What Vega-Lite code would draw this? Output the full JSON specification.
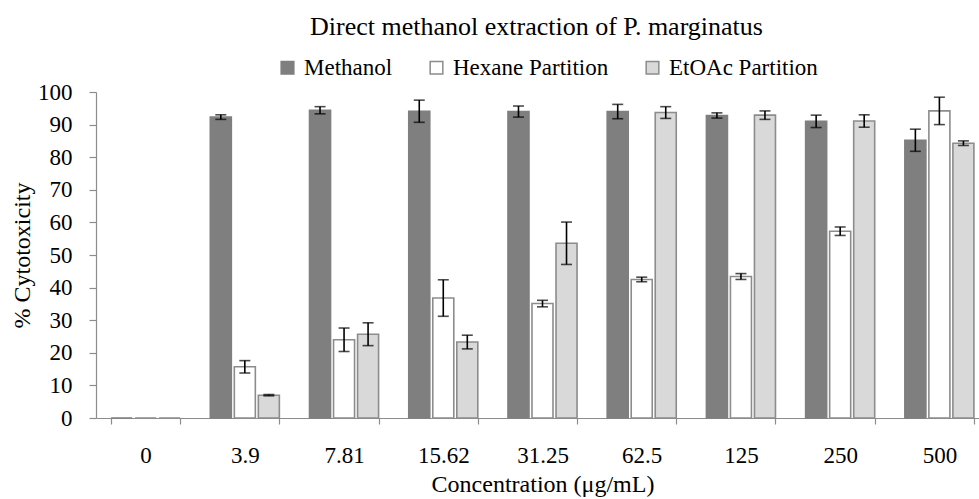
{
  "$schema": "https://vega.github.io/schema/vega-lite/v6.json",
  "width": 893,
  "height": 326,
  "autosize": {"type": "none"},
  "padding": {"left": 96, "top": 92, "right": -10, "bottom": 81},
  "background": "white",
  "title": {
    "text": "Direct methanol extraction of P. marginatus",
    "font": "Liberation Serif",
    "fontSize": 26,
    "fontWeight": "normal",
    "color": "black",
    "anchor": "start",
    "frame": "group",
    "dx": 214,
    "offset": 16
  },
  "config": {
    "view": {"stroke": null},
    "font": "Liberation Serif",
    "axis": {
      "labelFont": "Liberation Serif",
      "titleFont": "Liberation Serif",
      "labelColor": "black",
      "titleColor": "black",
      "titleFontWeight": "normal",
      "ticks": true,
      "tickColor": "#8c8c8c",
      "tickWidth": 1.2,
      "domainColor": "#8c8c8c",
      "domainWidth": 1.2,
      "grid": false,
      "labelOverlap": false
    },
    "axisX": {
      "titleFontSize": 24,
      "titlePadding": 5,
      "labelFontSize": 23,
      "labelPadding": 20,
      "labelAngle": 0,
      "tickSize": 6,
      "tickBand": "extent"
    }
  },
  "data": {
    "values": [
      {"conc": "0", "series": "Methanol", "value": 0},
      {"conc": "0", "series": "Hexane Partition", "value": 0},
      {"conc": "0", "series": "EtOAc Partition", "value": 0},
      {"conc": "3.9", "series": "Methanol", "value": 92.3, "lo": 91.6, "hi": 93.0},
      {"conc": "3.9", "series": "Hexane Partition", "value": 15.7, "lo": 13.8, "hi": 17.6},
      {"conc": "3.9", "series": "EtOAc Partition", "value": 7.0, "lo": 6.8, "hi": 7.2},
      {"conc": "7.81", "series": "Methanol", "value": 94.4, "lo": 93.3, "hi": 95.5},
      {"conc": "7.81", "series": "Hexane Partition", "value": 24.0, "lo": 20.4, "hi": 27.6},
      {"conc": "7.81", "series": "EtOAc Partition", "value": 25.7, "lo": 22.2, "hi": 29.2},
      {"conc": "15.62", "series": "Methanol", "value": 94.1, "lo": 90.7, "hi": 97.5},
      {"conc": "15.62", "series": "Hexane Partition", "value": 36.8, "lo": 31.2, "hi": 42.4},
      {"conc": "15.62", "series": "EtOAc Partition", "value": 23.3, "lo": 21.2, "hi": 25.4},
      {"conc": "31.25", "series": "Methanol", "value": 94.0, "lo": 92.3, "hi": 95.7},
      {"conc": "31.25", "series": "Hexane Partition", "value": 35.1, "lo": 34.1, "hi": 36.1},
      {"conc": "31.25", "series": "EtOAc Partition", "value": 53.6, "lo": 47.1, "hi": 60.1},
      {"conc": "62.5", "series": "Methanol", "value": 94.0, "lo": 91.8, "hi": 96.2},
      {"conc": "62.5", "series": "Hexane Partition", "value": 42.5, "lo": 41.8, "hi": 43.2},
      {"conc": "62.5", "series": "EtOAc Partition", "value": 93.7, "lo": 91.9, "hi": 95.5},
      {"conc": "125", "series": "Methanol", "value": 92.8, "lo": 92.0, "hi": 93.6},
      {"conc": "125", "series": "Hexane Partition", "value": 43.4, "lo": 42.5, "hi": 44.3},
      {"conc": "125", "series": "EtOAc Partition", "value": 92.9, "lo": 91.6, "hi": 94.2},
      {"conc": "250", "series": "Methanol", "value": 91.0, "lo": 89.1, "hi": 92.9},
      {"conc": "250", "series": "Hexane Partition", "value": 57.3, "lo": 56.0, "hi": 58.6},
      {"conc": "250", "series": "EtOAc Partition", "value": 91.1, "lo": 89.2, "hi": 93.0},
      {"conc": "500", "series": "Methanol", "value": 85.2, "lo": 81.8, "hi": 88.6},
      {"conc": "500", "series": "Hexane Partition", "value": 94.2, "lo": 90.0, "hi": 98.4},
      {"conc": "500", "series": "EtOAc Partition", "value": 84.3, "lo": 83.6, "hi": 85.0}
    ]
  },
  "encoding": {
    "x": {
      "field": "conc",
      "type": "nominal",
      "sort": ["0", "3.9", "7.81", "15.62", "31.25", "62.5", "125", "250", "500"],
      "scale": {"paddingInner": 0.304, "paddingOuter": 0.152},
      "axis": {"title": "Concentration (μg/mL)"}
    },
    "xOffset": {
      "field": "series",
      "sort": ["Methanol", "Hexane Partition", "EtOAc Partition"],
      "scale": {"paddingInner": 0.125, "paddingOuter": 0}
    },
    "y": {
      "field": "value",
      "type": "quantitative",
      "scale": {"domain": [0, 100], "nice": false},
      "axis": {
        "title": "% Cytotoxicity",
        "values": [0, 10, 20, 30, 40, 50, 60, 70, 80, 90, 100],
        "labelFont": "Liberation Serif",
        "labelFontSize": 23,
        "labelPadding": 17,
        "titleFont": "Liberation Serif",
        "titleFontSize": 24,
        "titlePadding": 3,
        "tickSize": 7,
        "ticks": true
      }
    }
  },
  "layer": [
    {
      "mark": {"type": "bar", "strokeWidth": 1.6},
      "encoding": {
        "fill": {
          "field": "series",
          "type": "nominal",
          "scale": {
            "domain": ["Methanol", "Hexane Partition", "EtOAc Partition"],
            "range": ["#7f7f7f", "#ffffff", "#d9d9d9"]
          },
          "legend": {
            "title": null,
            "orient": "none",
            "direction": "horizontal",
            "legendX": 180,
            "legendY": -36,
            "symbolType": "square",
            "symbolSize": 160,
            "symbolStrokeWidth": 1.5,
            "labelFont": "Liberation Serif",
            "labelFontSize": 23,
            "labelColor": "black",
            "labelOffset": 5,
            "columnPadding": 32
          }
        },
        "stroke": {
          "field": "series",
          "type": "nominal",
          "scale": {
            "domain": ["Methanol", "Hexane Partition", "EtOAc Partition"],
            "range": ["#7f7f7f", "#8c8c8c", "#8c8c8c"]
          },
          "legend": null
        }
      }
    },
    {
      "mark": {"type": "rule", "color": "black", "strokeWidth": 1.6},
      "encoding": {
        "y": {"field": "lo", "type": "quantitative"},
        "y2": {"field": "hi"}
      }
    },
    {
      "mark": {"type": "tick", "color": "black", "thickness": 1.6, "size": 11, "orient": "horizontal"},
      "encoding": {"y": {"field": "lo", "type": "quantitative"}}
    },
    {
      "mark": {"type": "tick", "color": "black", "thickness": 1.6, "size": 11, "orient": "horizontal"},
      "encoding": {"y": {"field": "hi", "type": "quantitative"}}
    }
  ]
}
